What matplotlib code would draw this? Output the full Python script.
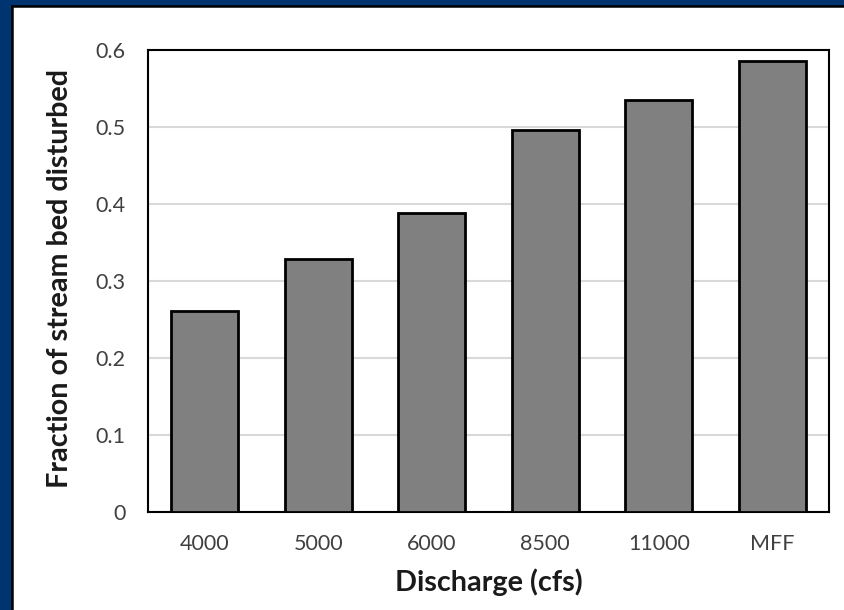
import numpy as np
import matplotlib.pyplot as plt
from matplotlib.patches import Rectangle
from matplotlib.lines import Line2D

# discharge categories and fraction of bed disturbed
categories = ['4000', '5000', '6000', '8500', '11000', 'MFF']
fraction = [0.261, 0.329, 0.388, 0.496, 0.535, 0.586]
yticks = [0, 0.1, 0.2, 0.3, 0.4, 0.5, 0.6]
ytick_labels = ['0', '0.1', '0.2', '0.3', '0.4', '0.5', '0.6']

plt.rcParams['font.family'] = ['Lato', 'DejaVu Sans']

W, H = 845, 610
fig = plt.figure(figsize=(W / 100, H / 100), dpi=100)
fig.patch.set_facecolor('#003471')

# white slide area with black frame on the left/top (behind the axes)
fig.patches.append(Rectangle((13 / W, 0), 1, 1 - 7 / H, transform=fig.transFigure,
                             facecolor='white', edgecolor='none', zorder=-2))
fig.lines.append(Line2D([12 / W, 12 / W], [0, 1 - 6 / H], transform=fig.transFigure,
                        color='black', lw=1.8, zorder=-1))
fig.lines.append(Line2D([12 / W, 1], [1 - 6 / H, 1 - 6 / H], transform=fig.transFigure,
                        color='black', lw=1.8, zorder=-1))

ax = fig.add_axes([148 / W, (H - 512) / H, 681 / W, 462 / H])
ax.set_facecolor('none')
x = np.arange(len(categories))
ax.bar(x, fraction, width=0.59, color='#808080', edgecolor='black', linewidth=2, zorder=3)

ax.set_xlim(-0.5, len(categories) - 0.5)
ax.set_ylim(0, 0.6)
ax.set_yticks(yticks)
ax.set_yticklabels(ytick_labels)
ax.set_xticks(x)
ax.set_xticklabels(categories)
ax.tick_params(axis='both', length=0, labelsize=15.5, colors='#404040')
ax.tick_params(axis='y', pad=16)
ax.tick_params(axis='x', pad=15.5)
ax.yaxis.grid(True, color='#d9d9d9', linewidth=1.5, zorder=0)
ax.set_axisbelow(True)
for s in ax.spines.values():
    s.set_color('black')
    s.set_linewidth(1.5)

# axis titles placed in figure pixels
fig.text(60 / W, 1 - 279 / H, 'Fraction of stream bed disturbed', rotation=90,
         ha='center', va='center', fontsize=20.7, fontweight='bold', color='#1a1a1a')
fig.text(0.5 * (148 + 829) / W, 1 - 582 / H, 'Discharge (cfs)',
         ha='center', va='center', fontsize=20.7, fontweight='bold', color='#1a1a1a')

fig.savefig('out.png', dpi=100, facecolor=fig.get_facecolor())
